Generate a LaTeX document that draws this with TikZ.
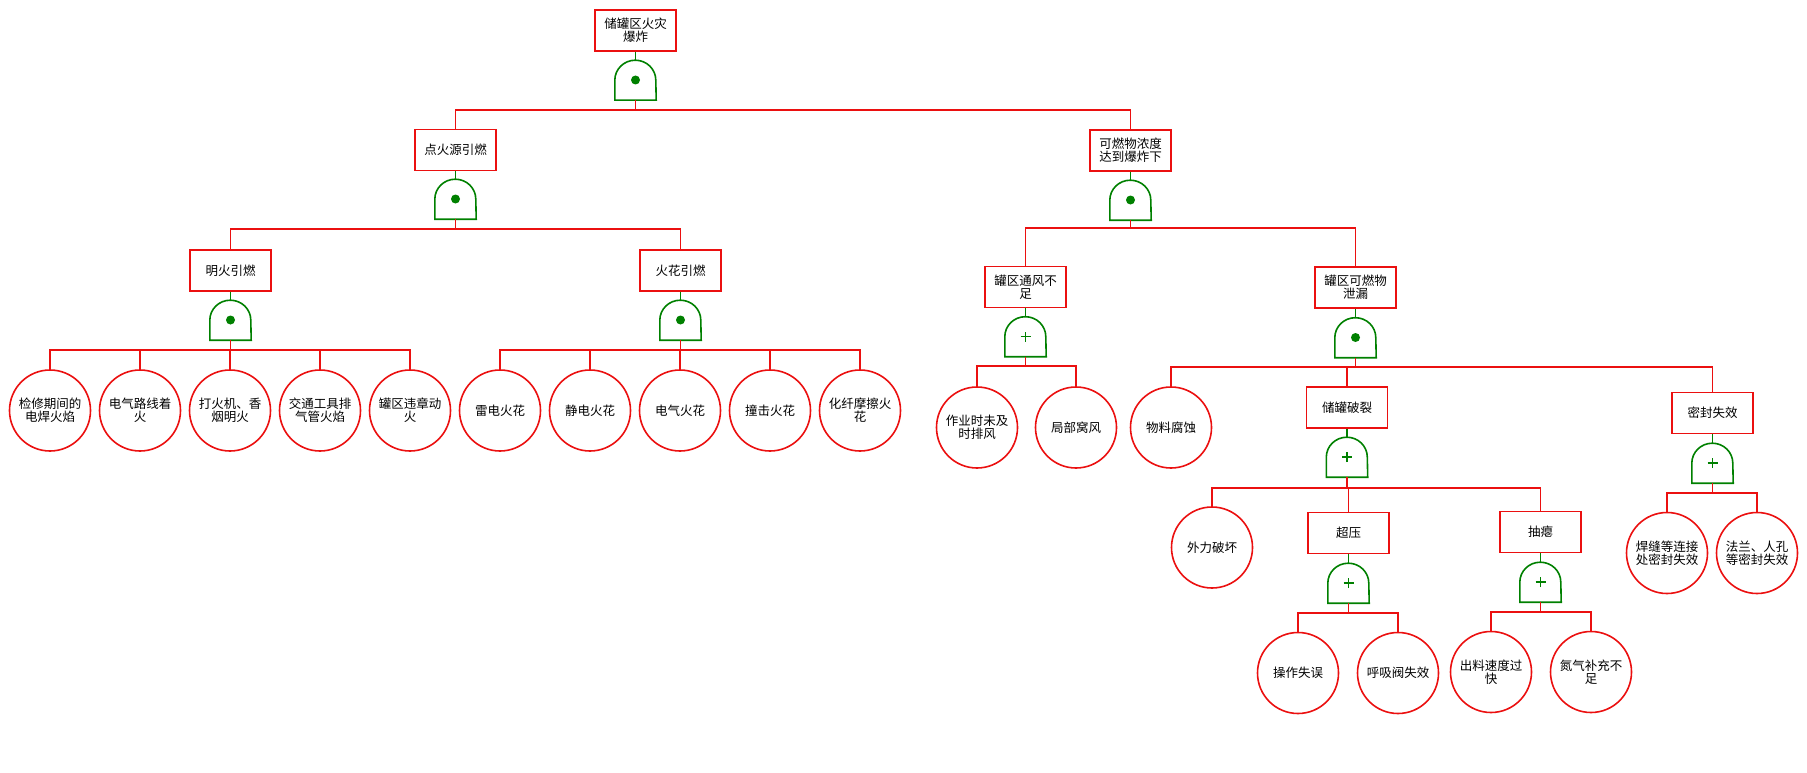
\documentclass[tikz,border=0pt]{standalone}
\usepackage{fontspec}
\newfontfamily\cjk{Noto Sans CJK SC}
\definecolor{evtred}{RGB}{235,16,16}
\definecolor{gategreen}{RGB}{0,128,0}
\tikzset{
  evt/.style={draw=evtred, line width=1.6pt, fill=white, minimum width=81pt, minimum height=41pt,
    inner sep=1pt, align=center, font=\cjk\fontsize{12.5pt}{13pt}\selectfont},
  basic/.style={circle, draw=evtred, line width=1.6pt, fill=white, minimum size=81pt, inner sep=0pt,
    align=center, font=\cjk\fontsize{12.5pt}{13pt}\selectfont},
  gate/.style={minimum width=41pt, minimum height=40pt, inner sep=0pt,
    append after command={\pgfextra{\draw[gategreen, line width=1.6pt] (\tikzlastnode.south west)
      -- ++(0pt,20pt) arc[start angle=180, end angle=0, x radius=20.5pt, y radius=20pt]
      -- (\tikzlastnode.south east) -- cycle;}}},
  andgate/.style={gate, append after command={\pgfextra{\fill[gategreen] (\tikzlastnode.center) circle (4.5pt);}}},
  orgate/.style={gate, append after command={\pgfextra{\draw[gategreen, line width=1.8pt]
      ([xshift=-5pt]\tikzlastnode.center) -- ([xshift=5pt]\tikzlastnode.center)
      ([yshift=-5pt]\tikzlastnode.center) -- ([yshift=5pt]\tikzlastnode.center);}}},
  rline/.style={draw=evtred, line width=1.6pt},
  gline/.style={draw=gategreen, line width=1.6pt}
}
\begin{document}
\begin{tikzpicture}[x=1pt,y=-1pt]
\useasboundingbox (0,0) rectangle (1807,773);
% top event
\node[evt] (top) at (635.5,30.5) {储罐区火灾\\爆炸};
\node[andgate] (gtop) at (635.5,80) {};
\coordinate (btop) at (635.5,110);
% second level
\node[evt] (ign) at (455.5,150) {点火源引燃};
\node[andgate] (gign) at (455.5,199) {};
\coordinate (bign) at (455.5,229);
\node[evt] (fuel) at (1130.5,150.5) {可燃物浓度\\达到爆炸下};
\node[andgate] (gfuel) at (1130.5,200) {};
\coordinate (bfuel) at (1130.5,228);
% ignition branch
\node[evt] (open) at (230.5,270.5) {明火引燃};
\node[andgate] (gopen) at (230.5,320) {};
\coordinate (bopen) at (230.5,350);
\node[evt] (spark) at (680.5,270.5) {火花引燃};
\node[andgate] (gspark) at (680.5,320) {};
\coordinate (bspark) at (680.5,350);
\node[basic] (o1) at (50,410.5) {检修期间的\\电焊火焰};
\node[basic] (o2) at (140,410.5) {电气路线着\\火};
\node[basic] (o3) at (230,410.5) {打火机、香\\烟明火};
\node[basic] (o4) at (320,410.5) {交通工具排\\气管火焰};
\node[basic] (o5) at (410,410.5) {罐区违章动\\火};
\node[basic] (s1) at (500,410.5) {雷电火花};
\node[basic] (s2) at (590,410.5) {静电火花};
\node[basic] (s3) at (680,410.5) {电气火花};
\node[basic] (s4) at (770,410.5) {撞击火花};
\node[basic] (s5) at (860,410.5) {化纤摩擦火\\花};
% fuel branch
\node[evt] (vent) at (1025.5,287) {罐区通风不\\足};
\node[orgate] (gvent) at (1025.5,336.5) {};
\coordinate (bvent) at (1025.5,366);
\node[basic] (v1) at (977,427.5) {作业时未及\\时排风};
\node[basic] (v2) at (1076,427.5) {局部窝风};
\node[evt] (leak) at (1355.5,287.5) {罐区可燃物\\泄漏};
\node[andgate] (gleak) at (1355.5,337.5) {};
\coordinate (bleak) at (1355.5,367);
\node[basic] (corr) at (1171,427.5) {物料腐蚀};
\node[evt] (rupt) at (1347,407.5) {储罐破裂};
\node[orgate] (grupt) at (1347,457) {};
\coordinate (brupt) at (1347,488);
\node[evt] (seal) at (1712.5,413) {密封失效};
\node[orgate] (gseal) at (1712.5,463) {};
\coordinate (bseal) at (1712.5,493);
\node[basic] (ext) at (1212,547.5) {外力破坏};
\node[evt] (over) at (1348.5,533) {超压};
\node[orgate] (gover) at (1348.5,583) {};
\coordinate (bover) at (1348.5,613);
\node[evt] (vac) at (1540.5,532) {抽瘪};
\node[orgate] (gvac) at (1540.5,582) {};
\coordinate (bvac) at (1540.5,612);
\node[basic] (p1) at (1298,673) {操作失误};
\node[basic] (p2) at (1398,673) {呼吸阀失效};
\node[basic] (u1) at (1491,672) {出料速度过\\快};
\node[basic] (u2) at (1591,672) {氮气补充不\\足};
\node[basic] (m1) at (1667,553) {焊缝等连接\\处密封失效};
\node[basic] (m2) at (1757,553) {法兰、人孔\\等密封失效};
% event to gate
\draw[gline] (top) -- (gtop) (ign) -- (gign) (fuel) -- (gfuel) (open) -- (gopen) (spark) -- (gspark)
  (vent) -- (gvent) (leak) -- (gleak) (rupt) -- (grupt) (seal) -- (gseal) (over) -- (gover) (vac) -- (gvac);
% gate to inputs
\draw[rline] (gtop) -- (btop) -| (ign) (btop) -| (fuel);
\draw[rline] (gign) -- (bign) -| (open) (bign) -| (spark);
\draw[rline] (gfuel) -- (bfuel) -| (vent) (bfuel) -| (leak);
\draw[rline] (gopen) -- (bopen) -| (o1) (bopen) -| (o2) (bopen) -| (o3) (bopen) -| (o4) (bopen) -| (o5);
\draw[rline] (gspark) -- (bspark) -| (s1) (bspark) -| (s2) (bspark) -| (s3) (bspark) -| (s4) (bspark) -| (s5);
\draw[rline] (gvent) -- (bvent) -| (v1) (bvent) -| (v2);
\draw[rline] (gleak) -- (bleak) -| (corr) (bleak) -| (rupt) (bleak) -| (seal);
\draw[rline] (grupt) -- (brupt) -| (ext) (brupt) -| (over) (brupt) -| (vac);
\draw[rline] (gover) -- (bover) -| (p1) (bover) -| (p2);
\draw[rline] (gvac) -- (bvac) -| (u1) (bvac) -| (u2);
\draw[rline] (gseal) -- (bseal) -| (m1) (bseal) -| (m2);
\end{tikzpicture}
\end{document}
